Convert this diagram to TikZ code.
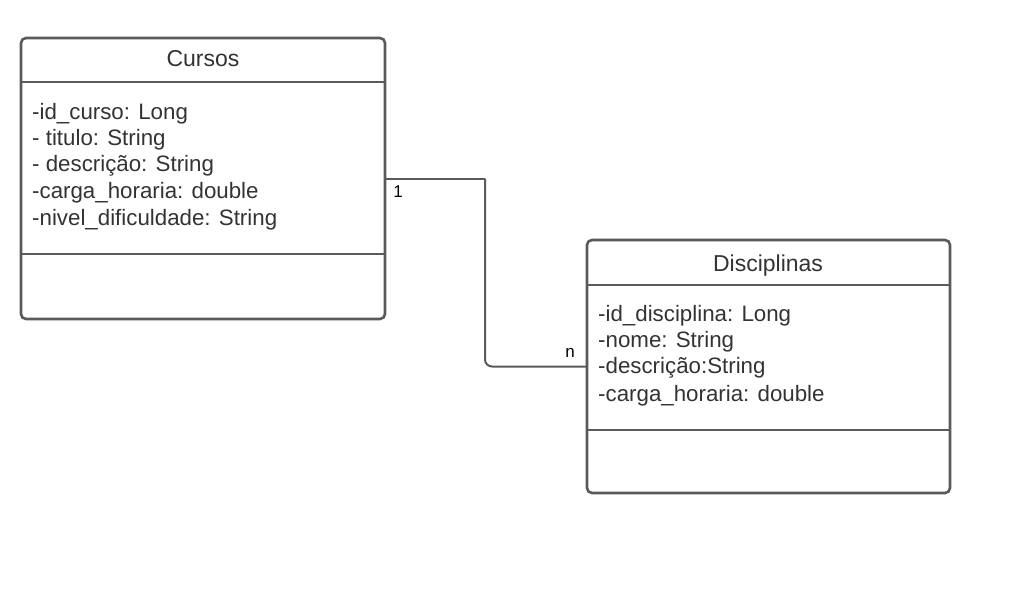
\documentclass[tikz,border=0pt]{standalone}
\usepackage{fontspec}
\setmainfont{Liberation Sans}
\definecolor{edge}{HTML}{5A5A5A}
\definecolor{ink}{HTML}{333333}
\begin{document}
\begin{tikzpicture}[x=1pt,y=-1pt,
  classbox/.style={draw=edge,line width=2.6pt,rounded corners=5pt,fill=white,
    anchor=north west,inner sep=0pt,outer sep=0pt},
  divider/.style={draw=edge,line width=2.6pt},
  title/.style={text=ink,font=\fontsize{23}{27}\selectfont,anchor=base,inner sep=0pt},
  attr/.style={text=ink,font=\fontsize{22.3}{26}\selectfont,anchor=base west,inner sep=0pt},
  conn/.style={draw=edge,line width=2pt},
  mult/.style={text=black,font=\fontsize{17}{20}\selectfont,anchor=base,inner sep=0pt}]
\useasboundingbox[fill=white] (0,0) rectangle (1017,592);

% class Cursos
\node[classbox,minimum width=364pt,minimum height=281pt] (cursos) at (21,38) {};
\draw[divider] (21,82) -- (385,82);
\draw[divider] (21,254) -- (385,254);
\node[title] (cursosT) at (203,66) {Cursos};
\node[attr] (c1) at (32,119) {-id\_curso: Long};
\node[attr] (c2) at (32,145) {- titulo: String};
\node[attr] (c3) at (32,171) {- descrição: String};
\node[attr] (c4) at (32,198) {-carga\_horaria: double};
\node[attr] (c5) at (32,225) {-nivel\_dificuldade: String};

% class Disciplinas
\node[classbox,minimum width=363pt,minimum height=253pt] (disc) at (587,240) {};
\draw[divider] (587,285) -- (950,285);
\draw[divider] (587,430) -- (950,430);
\node[title] (discT) at (768,271) {Disciplinas};
\node[attr] (d1) at (598,321) {-id\_disciplina: Long};
\node[attr] (d2) at (598,347) {-nome: String};
\node[attr] (d3) at (598,373) {-descrição:String};
\node[attr] (d4) at (598,401) {-carga\_horaria: double};

% association 1 -- n
\path (cursos.east) ++(100,0) coordinate (bend);
\draw[conn] (cursos.east) -- (bend);
\draw[conn,rounded corners=7pt] (bend) |- (disc.west);
\node[mult] (m1) at (398,197) {1};
\node[mult] (mn) at (570,357) {n};
\end{tikzpicture}
\end{document}
